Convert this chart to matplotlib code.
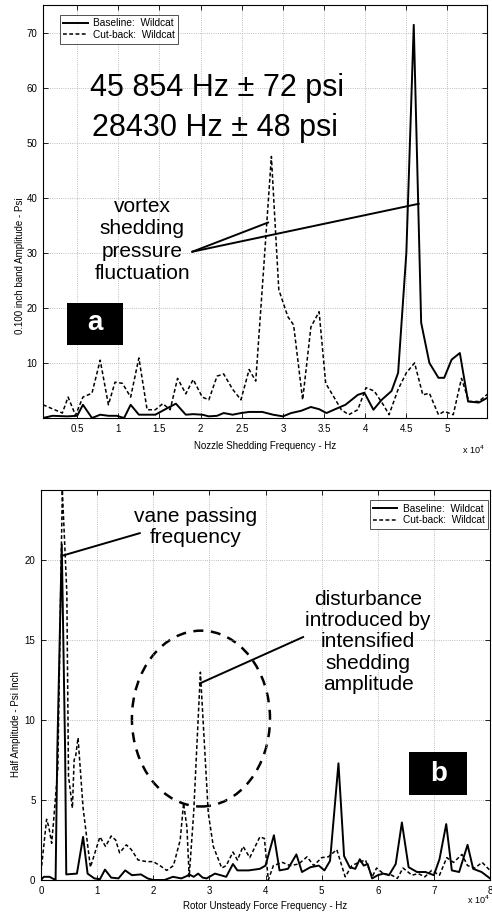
import matplotlib
matplotlib.use("Agg")
import matplotlib.pyplot as plt
from matplotlib.patches import Ellipse, Rectangle

plt.rcParams['font.family'] = ['Liberation Sans', 'DejaVu Sans']

# ---------------- Panel (a): nozzle shedding spectrum ----------------
a_base_f = [0.085, 0.2, 0.38, 0.5, 0.57, 0.68, 0.78, 0.88, 0.98, 1.07, 1.15, 1.25, 1.35, 1.45,
            1.56, 1.70, 1.82, 1.91, 2.02, 2.10, 2.20, 2.28, 2.39, 2.49, 2.59, 2.75, 2.88, 3.0,
            3.1, 3.22, 3.34, 3.44, 3.53, 3.62, 3.76, 3.91, 3.99, 4.10, 4.20, 4.32, 4.40, 4.50,
            4.59, 4.68, 4.78, 4.89, 4.96, 5.05, 5.15, 5.25, 5.38, 5.5]
a_base_v = [0.0, 0.4, 0.3, 0.4, 2.4, 0.0, 0.6, 0.4, 0.4, 0.0, 2.4, 0.6, 0.6, 0.6,
            1.5, 2.6, 0.6, 0.7, 0.6, 0.3, 0.4, 0.9, 0.6, 0.9, 1.1, 1.1, 0.6, 0.3,
            0.9, 1.3, 2.0, 1.6, 0.9, 1.5, 2.4, 4.2, 4.6, 1.5, 3.3, 4.9, 8.2, 30.0,
            71.4, 17.3, 10.0, 7.3, 7.3, 10.6, 11.8, 3.0, 2.8, 3.8]

a_cut_f = [0.085, 0.32, 0.39, 0.48, 0.57, 0.68, 0.78, 0.88, 0.96, 1.05, 1.15, 1.25, 1.35, 1.45,
           1.54, 1.63, 1.72, 1.82, 1.91, 2.02, 2.10, 2.20, 2.28, 2.39, 2.49, 2.59, 2.67, 2.77,
           2.86, 2.95, 3.06, 3.13, 3.24, 3.34, 3.44, 3.52, 3.62, 3.71, 3.80, 3.91, 4.01, 4.11,
           4.22, 4.29, 4.40, 4.50, 4.60, 4.70, 4.78, 4.89, 4.96, 5.07, 5.17, 5.26, 5.38, 5.5]
a_cut_v = [2.4, 0.9, 3.8, 0.5, 3.8, 4.5, 10.5, 2.4, 6.5, 6.3, 3.8, 10.9, 1.5, 1.5,
           2.6, 1.5, 7.2, 4.4, 7.0, 3.8, 3.3, 7.6, 8.0, 5.2, 3.3, 8.8, 6.7, 28.0,
           47.5, 23.3, 18.4, 16.9, 3.3, 16.5, 19.3, 6.3, 3.8, 1.5, 0.6, 1.5, 5.5, 4.9,
           2.4, 0.6, 5.2, 8.2, 10.0, 4.2, 4.5, 0.6, 1.2, 0.6, 7.2, 3.0, 3.0, 4.5]

a_xticks = [0.5, 1, 1.5, 2, 2.5, 3, 3.5, 4, 4.5, 5]
a_xticklabels = ['0.5', '1', '1.5', '2', '2.5', '3', '3.5', '4', '4.5', '5']
a_yticks = [10, 20, 30, 40, 50, 60, 70]

# ---------------- Panel (b): rotor unsteady force spectrum ----------------
b_base_f = [0.0, 0.05, 0.15, 0.26, 0.29, 0.37, 0.43, 0.45, 0.64, 0.75, 0.83, 0.95, 1.05, 1.14,
            1.25, 1.38, 1.50, 1.62, 1.78, 1.90, 2.0, 2.2, 2.35, 2.5, 2.6, 2.64, 2.72, 2.8,
            2.88, 2.95, 3.1, 3.2, 3.3, 3.42, 3.5, 3.7, 3.9, 4.0, 4.15, 4.25, 4.4, 4.55,
            4.65, 4.8, 4.95, 5.05, 5.15, 5.3, 5.4, 5.5, 5.6, 5.68, 5.75, 5.82, 5.9, 6.0,
            6.1, 6.2, 6.32, 6.43, 6.55, 6.7, 6.85, 7.0, 7.1, 7.22, 7.32, 7.45, 7.6, 7.7,
            7.85, 8.0]
b_base_v = [0.0, 0.2, 0.2, 0.0, 8.0, 21.0, 8.0, 0.35, 0.4, 2.7, 0.4, 0.1, 0.05, 0.65,
            0.15, 0.1, 0.6, 0.3, 0.35, 0.1, 0.0, 0.0, 0.2, 0.1, 0.25, 0.35, 0.2, 0.4,
            0.15, 0.1, 0.4, 0.3, 0.2, 1.0, 0.6, 0.6, 0.7, 0.9, 2.8, 0.6, 0.7, 1.6,
            0.5, 0.8, 0.9, 0.6, 1.2, 7.3, 1.5, 0.8, 0.7, 1.3, 0.9, 1.0, 0.1, 0.3,
            0.4, 0.3, 1.0, 3.6, 0.8, 0.5, 0.5, 0.3, 1.3, 3.5, 0.6, 0.5, 2.2, 0.7,
            0.5, 0.1]

b_cut_f = [0.0, 0.1, 0.14, 0.19, 0.22, 0.3, 0.38, 0.46, 0.49, 0.56, 0.59, 0.62, 0.66, 0.75,
           0.88, 1.05, 1.15, 1.25, 1.33, 1.40, 1.52, 1.61, 1.73, 1.88, 2.0, 2.12, 2.24, 2.36,
           2.48, 2.54, 2.60, 2.64, 2.72, 2.84, 2.98, 3.07, 3.22, 3.30, 3.42, 3.50, 3.60, 3.72,
           3.90, 3.98, 4.05, 4.14, 4.30, 4.44, 4.59, 4.74, 4.86, 5.0, 5.12, 5.27, 5.42, 5.54,
           5.66, 5.78, 5.90, 5.98, 6.10, 6.25, 6.35, 6.45, 6.61, 6.72, 6.84, 6.96, 7.10, 7.23,
           7.35, 7.50, 7.60, 7.73, 7.86, 8.0]
b_cut_v = [0.5, 3.8, 3.3, 2.3, 3.5, 7.0, 24.4, 18.0, 6.5, 4.5, 7.5, 7.8, 8.9, 4.5,
           0.8, 2.7, 2.1, 2.75, 2.5, 1.7, 2.2, 1.9, 1.25, 1.15, 1.15, 0.9, 0.6, 0.9,
           2.5, 4.8, 3.3, 0.2, 4.2, 13.0, 4.2, 2.1, 0.75, 0.9, 1.75, 1.25, 2.1, 1.4,
           2.7, 2.6, 0.0, 0.9, 1.1, 0.9, 1.0, 1.45, 0.9, 1.4, 1.45, 1.9, 0.2, 0.9,
           1.1, 1.25, 0.2, 0.75, 0.4, 0.3, 0.1, 0.75, 0.3, 0.4, 0.2, 0.6, 0.3, 1.4,
           1.1, 1.6, 0.9, 0.75, 1.1, 0.6]

b_xticks = [0, 1, 2, 3, 4, 5, 6, 7, 8]
b_yticks = [0, 5, 10, 15, 20]

legend_labels = ['Baseline:  Wildcat', 'Cut-back:  Wildcat']

W, H = 492, 921
fig = plt.figure(figsize=(W / 100, H / 100), dpi=100)


def px_box(l, t, r, b):
    return [l / W, 1 - b / H, (r - l) / W, (b - t) / H]


def style(ax):
    ax.tick_params(direction='in', length=3.5, width=0.6, top=True, right=True,
                   labelsize=7, pad=4)
    ax.grid(True, linestyle=':', color='#a8a8a8', linewidth=0.6)
    for s in ax.spines.values():
        s.set_linewidth(0.8)


dash = (0, (2.5, 1.6))
leg_kw = dict(fontsize=7.3, frameon=True, fancybox=False, edgecolor='black', handlelength=2.4,
              borderpad=0.35, labelspacing=0.15, handletextpad=0.5, borderaxespad=0)

# ----- top axes -----
ax1 = fig.add_axes(px_box(43, 5, 487, 418))
ax1.plot(a_base_f, a_base_v, color='black', lw=1.4, label=legend_labels[0])
ax1.plot(a_cut_f, a_cut_v, color='black', lw=1.1, linestyle=dash, label=legend_labels[1])
ax1.set_xlim(0.085, 5.48)
ax1.set_ylim(0, 75)
ax1.set_xticks(a_xticks)
ax1.set_xticklabels(a_xticklabels)
ax1.set_yticks(a_yticks)
style(ax1)
ax1.set_xlabel('Nozzle Shedding Frequency - Hz', fontsize=7, labelpad=5)
ax1.set_ylabel('0.100 inch band Amplitude - Psi', fontsize=7)
ax1.yaxis.set_label_coords(-0.052, 0.368)
ax1.yaxis.label.set_verticalalignment('center')
leg1 = ax1.legend(loc='upper left', bbox_to_anchor=(0.038, 0.976), **leg_kw)
leg1.get_frame().set_linewidth(0.6)
fig.text(473 / W, 1 - 450 / H, 'x 10$^4$', fontsize=6.5, ha='center', va='center')

ax1.text(2.2, 60, '45 854 Hz \u00b1 72 psi', fontsize=22, ha='center', va='center')
ax1.text(2.18, 52.7, '28430 Hz \u00b1 48 psi', fontsize=22, ha='center', va='center')
ax1.text(1.29, 32.3, 'vortex\nshedding\npressure\nfluctuation', fontsize=15,
         ha='center', va='center', linespacing=1.22)
ax1.plot([1.90, 2.82], [30.2, 35.5], color='black', lw=1.4)
ax1.plot([1.90, 4.65], [30.2, 38.9], color='black', lw=1.4)
ax1.add_patch(Rectangle((0.38, 13.3), 0.68, 7.6, facecolor='black', edgecolor='none', zorder=4))
ax1.text(0.72, 17.2, 'a', fontsize=20, fontweight='bold', color='white',
         ha='center', va='center', zorder=5)

# ----- bottom axes -----
ax2 = fig.add_axes(px_box(41, 490, 490, 880))
ax2.plot(b_base_f, b_base_v, color='black', lw=1.4, label=legend_labels[0])
ax2.plot(b_cut_f, b_cut_v, color='black', lw=1.1, linestyle=dash, label=legend_labels[1])
ax2.set_xlim(0, 8)
ax2.set_ylim(0, 24.4)
ax2.set_xticks(b_xticks)
ax2.set_yticks(b_yticks)
style(ax2)
ax2.set_xlabel('Rotor Unsteady Force Frequency - Hz', fontsize=7, labelpad=4)
ax2.set_ylabel('Half Amplitude - Psi Inch', fontsize=7)
ax2.yaxis.set_label_coords(-0.056, 0.40)
ax2.yaxis.label.set_verticalalignment('center')
leg2 = ax2.legend(loc='upper right', bbox_to_anchor=(0.9955, 0.974), **leg_kw)
leg2.get_frame().set_linewidth(0.6)
fig.text(478 / W, 1 - 900 / H, 'x 10$^4$', fontsize=6.5, ha='center', va='center')

ax2.text(2.76, 22.1, 'vane passing\nfrequency', fontsize=15, ha='center', va='center',
         linespacing=1.1)
ax2.plot([1.76, 0.39], [21.7, 20.3], color='black', lw=1.4)
ax2.text(5.83, 14.9, 'disturbance\nintroduced by\nintensified\nshedding\namplitude',
         fontsize=15, ha='center', va='center', linespacing=1.15)
ax2.plot([4.67, 2.83], [15.2, 12.3], color='black', lw=1.4)
ax2.add_patch(Ellipse((2.85, 10.1), 2.46, 11.0, fill=False, edgecolor='black', lw=1.8,
                      linestyle=(0, (4, 3))))
ax2.add_patch(Rectangle((6.56, 5.3), 1.03, 2.7, facecolor='black', edgecolor='none', zorder=4))
ax2.text(7.08, 6.65, 'b', fontsize=20, fontweight='bold', color='white',
         ha='center', va='center', zorder=5)

fig.savefig('out.png', dpi=100)
